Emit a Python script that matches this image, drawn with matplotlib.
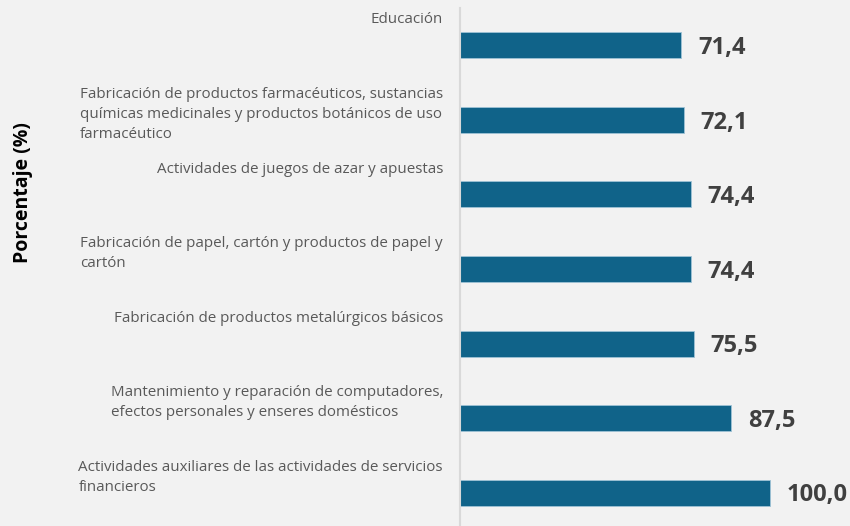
import matplotlib
matplotlib.use('Agg')
import matplotlib.pyplot as plt
from matplotlib.transforms import blended_transform_factory

# Data
categories = [
    "Educación",
    "Fabricación de productos farmacéuticos, sustancias\nquímicas medicinales y productos botánicos de uso\nfarmacéutico",
    "Actividades de juegos de azar y apuestas",
    "Fabricación de papel, cartón y productos de papel y\ncartón",
    "Fabricación de productos metalúrgicos básicos",
    "Mantenimiento y reparación de computadores,\nefectos personales y enseres domésticos",
    "Actividades auxiliares de las actividades de servicios\nfinancieros",
]
values = [71.4, 72.1, 74.4, 74.4, 75.5, 87.5, 100.0]
y_label = "Porcentaje (%)"

BG = "#f2f2f2"
BAR = "#106389"

plt.rcParams['font.family'] = ['Open Sans', 'DejaVu Sans']

fig = plt.figure(figsize=(8.5, 5.26), dpi=100, facecolor=BG)
ax = fig.add_axes([460 / 850, -4 / 526, 390 / 850, 522 / 526])
ax.set_facecolor(BG)

pos = list(range(len(categories)))
ax.barh(pos, values, height=0.35, color=BAR, edgecolor="#9fc3d6", linewidth=0.6)
ax.set_ylim(len(categories) - 0.5, -0.5)
ax.set_xlim(0, 125.8)

for p, v in zip(pos, values):
    ax.annotate(f"{v:.1f}".replace(".", ","), xy=(v, p), xytext=(12, -2),
                textcoords="offset points", va="center", ha="left",
                fontsize=17, fontweight="bold", color="#404040")

trans = blended_transform_factory(fig.transFigure, ax.transData)
for p, lab in zip(pos, categories):
    ax.text(443 / 850, p - 0.44, lab, transform=trans, ha="right", va="top",
            multialignment="left", fontsize=10.9, color="#595959",
            linespacing=1.45, clip_on=False)

fig.text(23 / 850, 1 - 193 / 526, y_label, rotation=90, ha="center", va="center",
         fontsize=14, fontweight="bold", color="black")

ax.set_xticks([])
ax.set_yticks([])
for s in ["top", "right", "bottom"]:
    ax.spines[s].set_visible(False)
ax.spines["left"].set_color("#d9d9d9")
ax.spines["left"].set_linewidth(1.5)

fig.savefig("out.png", dpi=100, facecolor=BG)
